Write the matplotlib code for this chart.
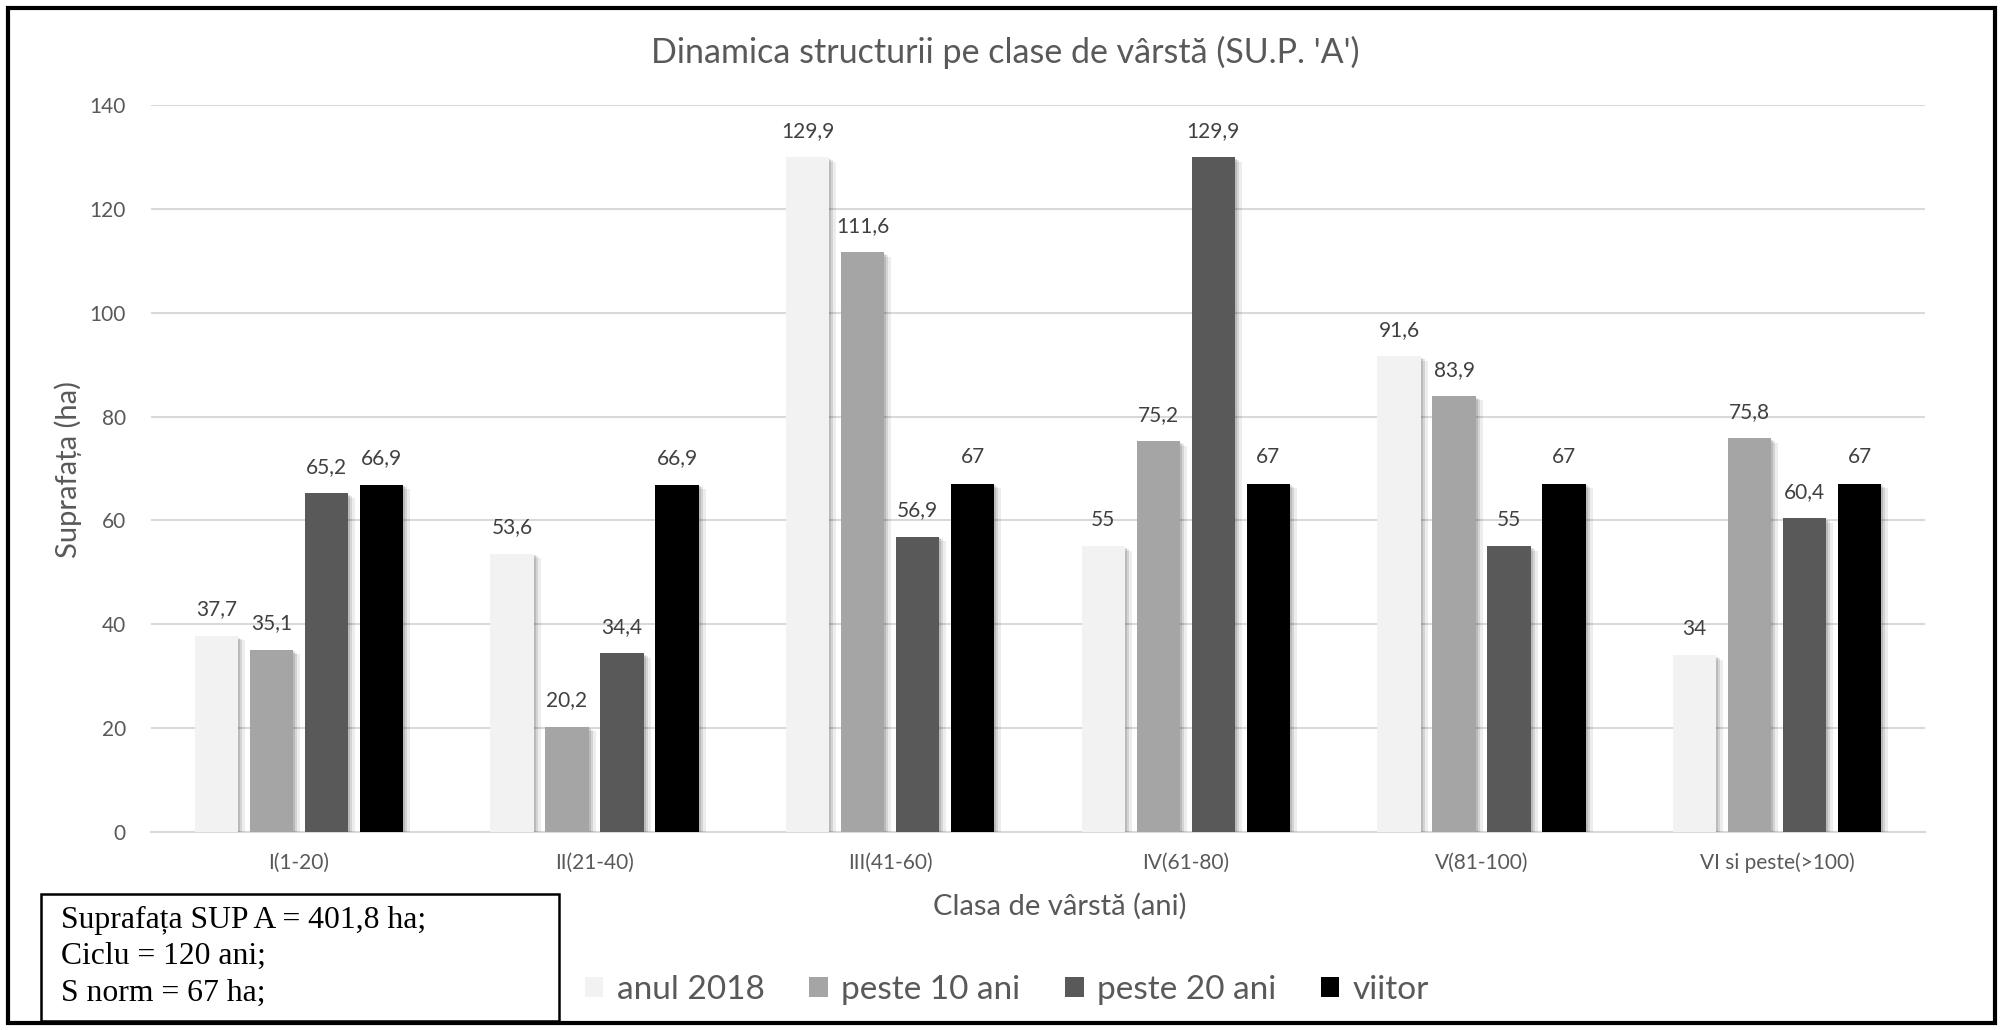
import matplotlib
matplotlib.use("Agg")
import matplotlib.pyplot as plt
import matplotlib.patheffects as pe
from matplotlib.patches import Rectangle, Patch
import numpy as np

# data
categories = ["I(1-20)", "II(21-40)", "III(41-60)", "IV(61-80)", "V(81-100)", "VI si peste(>100)"]
anul_2018 = [37.7, 53.6, 129.9, 55, 91.6, 34]
peste_10 = [35.1, 20.2, 111.6, 75.2, 83.9, 75.8]
peste_20 = [65.2, 34.4, 56.9, 129.9, 55, 60.4]
viitor = [66.9, 66.9, 67, 67, 67, 67]

series_names = ["anul 2018", "peste 10 ani", "peste 20 ani", "viitor"]
series_colors = ["#F2F2F2", "#A5A5A5", "#595959", "#000000"]

plt.rcParams['font.family'] = ['Lato', 'DejaVu Sans']
W, H = 2002, 1030
fig = plt.figure(figsize=(W / 100, H / 100), dpi=100)

def fx(px):
    return px / W

def fy(py):
    return 1 - py / H

ax = fig.add_axes([fx(151), fy(832), fx(1925) - fx(151), fy(105) - fy(832)])

x = np.arange(len(categories))
step = 0.186
width = 0.146
shadow = [pe.SimplePatchShadow(offset=(5, -3), shadow_rgbFace='k', alpha=0.07),
          pe.SimplePatchShadow(offset=(3, -2), shadow_rgbFace='k', alpha=0.10),
          pe.SimplePatchShadow(offset=(1.5, -1), shadow_rgbFace='k', alpha=0.12),
          pe.Normal()]

all_series = [anul_2018, peste_10, peste_20, viitor]
for j, (vals, col) in enumerate(zip(all_series, series_colors)):
    pos = x + (j - 1.5) * step
    bars = ax.bar(pos, vals, width=width, color=col, zorder=3)
    for b in bars:
        b.set_path_effects(shadow)
    for p, v in zip(pos, vals):
        ax.annotate(f"{v:g}".replace('.', ','), (p, v), xytext=(0, 12),
                    textcoords='offset points', ha='center', va='bottom',
                    fontsize=15, color='#404040')

ax.set_xlim(-0.5, len(categories) - 0.5)
ax.set_ylim(0, 140)
ax.set_yticks(range(0, 141, 20))
ax.set_xticks(x)
ax.set_xticklabels(categories)
ax.tick_params(axis='both', length=0, labelsize=15, labelcolor='#595959')
ax.tick_params(axis='x', pad=15)
ax.tick_params(axis='y', pad=18)
ax.grid(axis='y', color='#D9D9D9', linewidth=1.5, zorder=0)
ax.set_axisbelow(True)
for s in ['top', 'right', 'left']:
    ax.spines[s].set_visible(False)
ax.spines['bottom'].set_color('#D9D9D9')
ax.spines['bottom'].set_linewidth(1.5)

fig.text(fx(1005), fy(52), "Dinamica structurii pe clase de vârstă (SU.P. 'A')",
         ha='center', va='center', fontsize=24.5, color='#595959')
fig.text(fx(1060), fy(906), "Clasa de vârstă (ani)", ha='center', va='center',
         fontsize=21, color='#595959')
fig.text(fx(68), fy(470), "Suprafața (ha)", ha='center', va='center',
         rotation=90, fontsize=21, color='#595959')

handles = [Patch(facecolor=c, edgecolor='none') for c in series_colors]
fig.legend(handles, series_names, loc='center', bbox_to_anchor=(fx(1007), fy(990)),
           ncol=4, frameon=False, fontsize=24, labelcolor='#595959',
           handlelength=0.55, handleheight=0.55, handletextpad=0.4, columnspacing=1.35)

# info box
fig.patches.append(Rectangle((fx(41), fy(1021)), fx(559) - fx(41), fy(894) - fy(1021),
                             transform=fig.transFigure, facecolor='white',
                             edgecolor='black', linewidth=1.8))
fig.text(fx(61), fy(906), "Suprafața SUP A = 401,8 ha;\nCiclu = 120 ani;\nS norm = 67 ha;",
         ha='left', va='top', fontsize=22.8, family='Liberation Serif',
         linespacing=1.33, color='black')

# outer frame
fig.patches.append(Rectangle((fx(8), fy(1023)), fx(1995) - fx(8), fy(8) - fy(1023),
                             transform=fig.transFigure, facecolor='none',
                             edgecolor='black', linewidth=3))

fig.savefig("out.png", dpi=100, facecolor='white')
